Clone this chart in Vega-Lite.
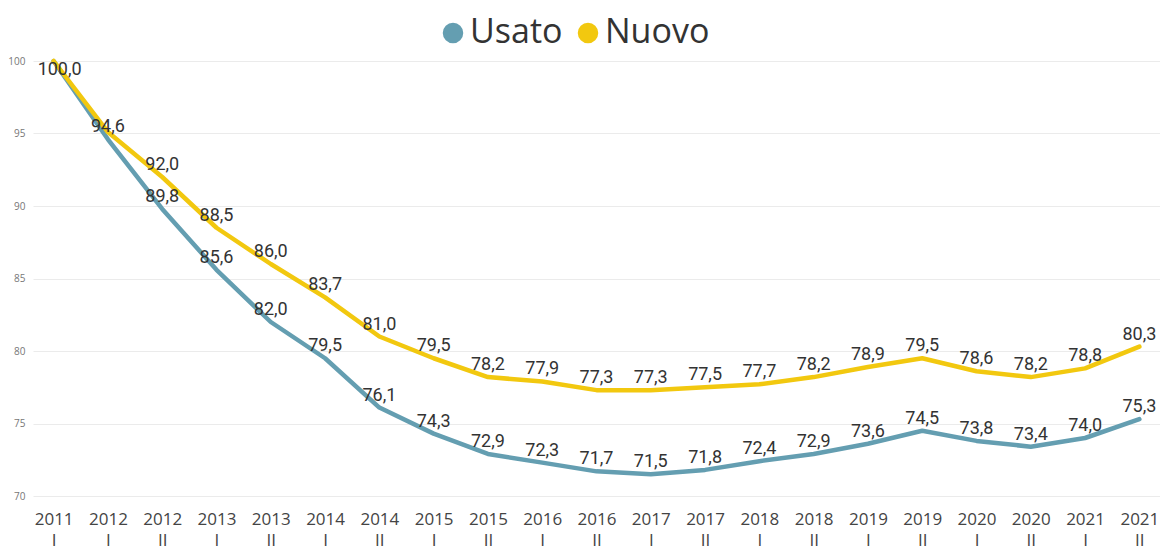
{
  "$schema": "https://vega.github.io/schema/vega-lite/v6.json",
  "autosize": "none",
  "width": 1127,
  "height": 435,
  "padding": {"left": 33, "top": 61, "right": 0, "bottom": 54},
  "background": "white",
  "config": {
    "view": {"stroke": null},
    "locale": {"number": {"decimal": ",", "thousands": ".", "grouping": [3], "currency": ["€", ""]}}
  },
  "data": {"values": [
    {"period": "2011 I", "series": "Usato", "value": 100.0},
    {"period": "2011 I", "series": "Nuovo", "value": 100.0},
    {"period": "2012 I", "series": "Usato", "value": 94.6},
    {"period": "2012 I", "series": "Nuovo", "value": 95.1},
    {"period": "2012 II", "series": "Usato", "value": 89.8},
    {"period": "2012 II", "series": "Nuovo", "value": 92.0},
    {"period": "2013 I", "series": "Usato", "value": 85.6},
    {"period": "2013 I", "series": "Nuovo", "value": 88.5},
    {"period": "2013 II", "series": "Usato", "value": 82.0},
    {"period": "2013 II", "series": "Nuovo", "value": 86.0},
    {"period": "2014 I", "series": "Usato", "value": 79.5},
    {"period": "2014 I", "series": "Nuovo", "value": 83.7},
    {"period": "2014 II", "series": "Usato", "value": 76.1},
    {"period": "2014 II", "series": "Nuovo", "value": 81.0},
    {"period": "2015 I", "series": "Usato", "value": 74.3},
    {"period": "2015 I", "series": "Nuovo", "value": 79.5},
    {"period": "2015 II", "series": "Usato", "value": 72.9},
    {"period": "2015 II", "series": "Nuovo", "value": 78.2},
    {"period": "2016 I", "series": "Usato", "value": 72.3},
    {"period": "2016 I", "series": "Nuovo", "value": 77.9},
    {"period": "2016 II", "series": "Usato", "value": 71.7},
    {"period": "2016 II", "series": "Nuovo", "value": 77.3},
    {"period": "2017 I", "series": "Usato", "value": 71.5},
    {"period": "2017 I", "series": "Nuovo", "value": 77.3},
    {"period": "2017 II", "series": "Usato", "value": 71.8},
    {"period": "2017 II", "series": "Nuovo", "value": 77.5},
    {"period": "2018 I", "series": "Usato", "value": 72.4},
    {"period": "2018 I", "series": "Nuovo", "value": 77.7},
    {"period": "2018 II", "series": "Usato", "value": 72.9},
    {"period": "2018 II", "series": "Nuovo", "value": 78.2},
    {"period": "2019 I", "series": "Usato", "value": 73.6},
    {"period": "2019 I", "series": "Nuovo", "value": 78.9},
    {"period": "2019 II", "series": "Usato", "value": 74.5},
    {"period": "2019 II", "series": "Nuovo", "value": 79.5},
    {"period": "2020 I", "series": "Usato", "value": 73.8},
    {"period": "2020 I", "series": "Nuovo", "value": 78.6},
    {"period": "2020 II", "series": "Usato", "value": 73.4},
    {"period": "2020 II", "series": "Nuovo", "value": 78.2},
    {"period": "2021 I", "series": "Usato", "value": 74.0},
    {"period": "2021 I", "series": "Nuovo", "value": 78.8},
    {"period": "2021 II", "series": "Usato", "value": 75.3},
    {"period": "2021 II", "series": "Nuovo", "value": 80.3}
  ]},
  "encoding": {
    "x": {
      "field": "period", "type": "ordinal", "sort": null,
      "scale": {"type": "point", "padding": 0.38},
      "axis": {
        "title": null, "labelAngle": 0, "domain": false, "ticks": false, "grid": false,
        "labelExpr": "split(datum.label, ' ')",
        "labelFont": "Open Sans", "labelFontSize": 17, "labelColor": "#444444",
        "labelLineHeight": 21, "labelPadding": 15, "labelBaseline": "top"
      }
    },
    "y": {
      "field": "value", "type": "quantitative",
      "scale": {"domain": [70, 100], "nice": false, "zero": false},
      "axis": {
        "title": null, "values": [70, 75, 80, 85, 90, 95, 100], "domain": false, "ticks": false,
        "gridColor": "#ebebeb", "gridWidth": 1,
        "labelFont": "Open Sans", "labelFontSize": 10, "labelColor": "#777777", "labelPadding": 8
      }
    },
    "color": {
      "field": "series", "type": "nominal",
      "scale": {"domain": ["Usato", "Nuovo"], "range": ["#649EB1", "#F2C80F"]},
      "legend": {
        "title": null, "orient": "none", "direction": "horizontal",
        "legendX": 403, "legendY": -45, "padding": 0,
        "symbolType": "circle", "symbolSize": 420, "symbolStrokeWidth": 0,
        "labelFont": "Open Sans", "labelFontSize": 34, "labelColor": "#333333",
        "labelOffset": 0, "columnPadding": 8,
        "encode": {
          "symbols": {"update": {"fill": {"signal": "scale('color', datum.value)"}, "fillOpacity": {"value": 1}, "stroke": {"value": "transparent"}}}
        }
      }
    }
  },
  "layer": [
    {
      "mark": {"type": "line", "strokeWidth": 4.5, "strokeJoin": "round", "strokeCap": "round"}
    },
    {
      "transform": [
        {"filter": "datum.value < 100 && !(datum.series == 'Nuovo' && datum.period == '2012 I')"}
      ],
      "mark": {"type": "text", "font": "Roboto", "fontSize": 18, "baseline": "middle", "align": "center", "dy": -12, "color": "#333333"},
      "encoding": {
        "text": {"field": "value", "type": "quantitative", "format": ".1f"},
        "color": {"value": "#333333"}
      }
    },
    {
      "transform": [
        {"filter": "datum.value >= 100 && datum.series == 'Usato'"}
      ],
      "mark": {"type": "text", "font": "Roboto", "fontSize": 18, "baseline": "middle", "align": "center", "dy": 9, "dx": 6, "color": "#333333"},
      "encoding": {
        "text": {"field": "value", "type": "quantitative", "format": ".1f"},
        "color": {"value": "#333333"}
      }
    }
  ]
}
